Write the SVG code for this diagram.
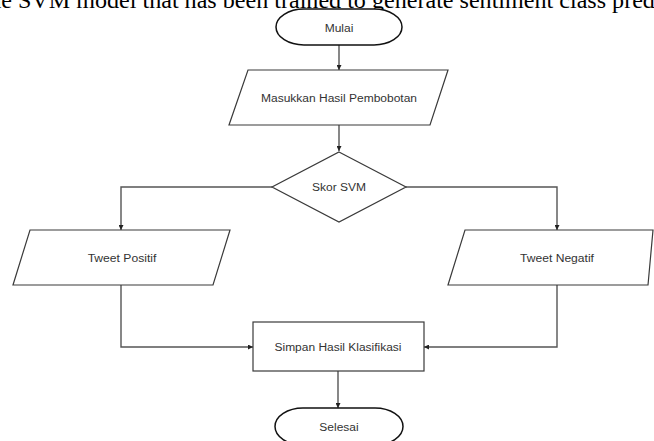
<svg xmlns="http://www.w3.org/2000/svg" width="654" height="441" viewBox="0 0 654 441">
<defs>
<marker id="arr" viewBox="0 0 10 10" refX="10" refY="5" markerWidth="5" markerHeight="5" orient="auto" markerUnits="userSpaceOnUse">
<path d="M0,0 L10,5 L0,10 z" fill="#222"/>
</marker>
<style>
.shape{fill:#fff;stroke:#3a3a3a;stroke-width:1.2}
.term{fill:#fff;stroke:#111;stroke-width:1.5}
.lbl{font-family:"Liberation Sans",Arial,sans-serif;font-size:10px;fill:#333;text-anchor:middle;dominant-baseline:central}
.conn{fill:none;stroke:#555;stroke-width:1.4}
.caption{font-family:"Liberation Serif","Times New Roman",serif;font-size:24.1px;fill:#000}
</style>
</defs>
<rect width="654" height="441" fill="#fff"/>
<text class="caption" x="-17.5" y="8">the SVM model that has been trained to generate sentiment class pred</text>
<g id="connectors">
<path class="conn" d="M339,45 V70" marker-end="url(#arr)"/>
<path class="conn" d="M339,125 V151" marker-end="url(#arr)"/>
<path class="conn" d="M272,187 H121 V230" marker-end="url(#arr)"/>
<path class="conn" d="M406,187 H557 V230" marker-end="url(#arr)"/>
<path class="conn" d="M121,285 V347 H253" marker-end="url(#arr)"/>
<path class="conn" d="M557,285 V347 H424" marker-end="url(#arr)"/>
<path class="conn" d="M338,371 V408" marker-end="url(#arr)"/>
</g>
<g id="mulai">
<rect class="term" x="276" y="9" width="126" height="36" rx="28" ry="18"/>
<text class="lbl" x="339" y="28" textLength="28.7" lengthAdjust="spacingAndGlyphs">Mulai</text>
</g>
<g id="masukkan">
<polygon class="shape" points="248,70 448,70 430,125 229,125"/>
<text class="lbl" x="339" y="98" textLength="156" lengthAdjust="spacingAndGlyphs">Masukkan Hasil Pembobotan</text>
</g>
<g id="skor">
<polygon class="shape" points="339,152 406,187 339,222 272,187"/>
<text class="lbl" x="339" y="187" textLength="54" lengthAdjust="spacingAndGlyphs">Skor SVM</text>
</g>
<g id="positif">
<polygon class="shape" points="30,230 230,230 213,285 13,285"/>
<text class="lbl" x="122" y="258" textLength="68.7" lengthAdjust="spacingAndGlyphs">Tweet Positif</text>
</g>
<g id="negatif">
<polygon class="shape" points="465,230 653,230 648,285 448,285"/>
<text class="lbl" x="557" y="258" textLength="74" lengthAdjust="spacingAndGlyphs">Tweet Negatif</text>
</g>
<g id="simpan">
<rect class="shape" x="253" y="322" width="171" height="49"/>
<text class="lbl" x="338" y="347" textLength="127" lengthAdjust="spacingAndGlyphs">Simpan Hasil Klasifikasi</text>
</g>
<g id="selesai">
<rect class="term" x="275" y="408" width="128" height="37" rx="28" ry="18.5"/>
<text class="lbl" x="339" y="427" textLength="39.3" lengthAdjust="spacingAndGlyphs">Selesai</text>
</g>
</svg>
